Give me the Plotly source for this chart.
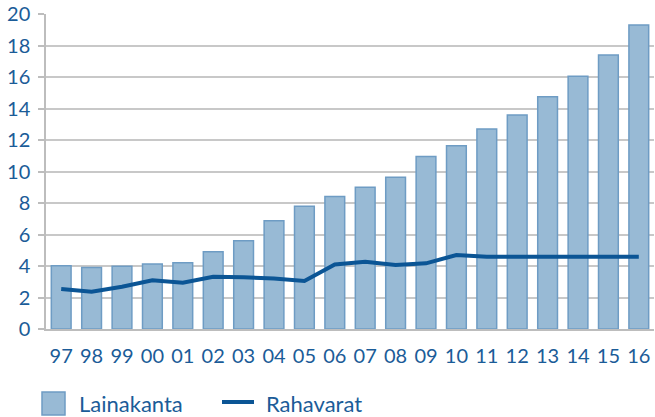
import plotly.graph_objects as go

years = ["97", "98", "99", "00", "01", "02", "03", "04", "05", "06",
         "07", "08", "09", "10", "11", "12", "13", "14", "15", "16"]
lainakanta = [4.02, 3.9, 3.98, 4.13, 4.2, 4.9, 5.6, 6.88, 7.8, 8.42,
              9.0, 9.63, 10.96, 11.64, 12.7, 13.59, 14.75, 16.04, 17.4, 19.3]
rahavarat = [2.54, 2.37, 2.68, 3.1, 2.94, 3.32, 3.28, 3.2, 3.05, 4.1,
             4.27, 4.06, 4.17, 4.7, 4.59, 4.6, 4.56, 4.58, 4.58, 4.58]
y_ticks = [0, 2, 4, 6, 8, 10, 12, 14, 16, 18, 20]
bar_name = "Lainakanta"
line_name = "Rahavarat"

text_color = "#1b5c98"
bar_fill = "#98bad5"
bar_edge = "#6e9cc4"
line_color = "#0b5595"
font_family = "Lato, Open Sans, sans-serif"

fig = go.Figure()
fig.add_trace(go.Bar(
    x=years, y=lainakanta, name=bar_name, showlegend=False,
    marker=dict(color=bar_fill, line=dict(color=bar_edge, width=1.5)),
))
fig.add_trace(go.Scatter(
    x=years, y=rahavarat, name=line_name, mode="lines", showlegend=False,
    line=dict(color=line_color, width=4),
))

# Legend drawn manually (large square swatch like the original)
W, H = 655, 417
ml, mr, mt, mb = 46, 1, 14, 88
pw, ph = W - ml - mr, H - mt - mb
def px(x):
    return (x - ml) / pw
def py(y):
    return (H - mb - y) / ph

fig.add_shape(type="rect", xref="paper", yref="paper",
              x0=px(42), x1=px(65), y0=py(415), y1=py(392),
              fillcolor=bar_fill, line=dict(color=bar_edge, width=1.5))
fig.add_annotation(xref="paper", yref="paper", x=px(77), y=py(403),
                   text=bar_name, showarrow=False, xanchor="left", yanchor="middle",
                   font=dict(size=22, color=text_color, family=font_family))
fig.add_shape(type="line", xref="paper", yref="paper",
              x0=px(222), x1=px(254), y0=py(402), y1=py(402),
              line=dict(color=line_color, width=4))
fig.add_annotation(xref="paper", yref="paper", x=px(264), y=py(403),
                   text=line_name, showarrow=False, xanchor="left", yanchor="middle",
                   font=dict(size=22, color=text_color, family=font_family))

fig.update_layout(
    width=W, height=H,
    margin=dict(l=ml, r=mr, t=mt, b=mb, autoexpand=False),
    paper_bgcolor="white", plot_bgcolor="white",
    bargap=0.35,
    font=dict(family=font_family, color=text_color, size=19),
    showlegend=False,
    xaxis=dict(showgrid=False, showline=True, linecolor="#bdbdbd", linewidth=1.5,
               ticks="", ticklabelstandoff=8,
               tickfont=dict(size=20, color=text_color)),
    yaxis=dict(range=[0, 20], tickvals=y_ticks, showgrid=True, gridcolor="#c8c8c8",
               gridwidth=1.5, showline=True, linecolor="#bdbdbd", linewidth=1.5,
               ticks="outside", ticklen=6, tickcolor="#bdbdbd", tickwidth=1.5,
               ticklabelstandoff=4,
               tickfont=dict(size=20, color=text_color), zeroline=False),
)

fig.write_html("out.html", config={"displayModeBar": False},
               post_script="document.body.style.margin='0';")
